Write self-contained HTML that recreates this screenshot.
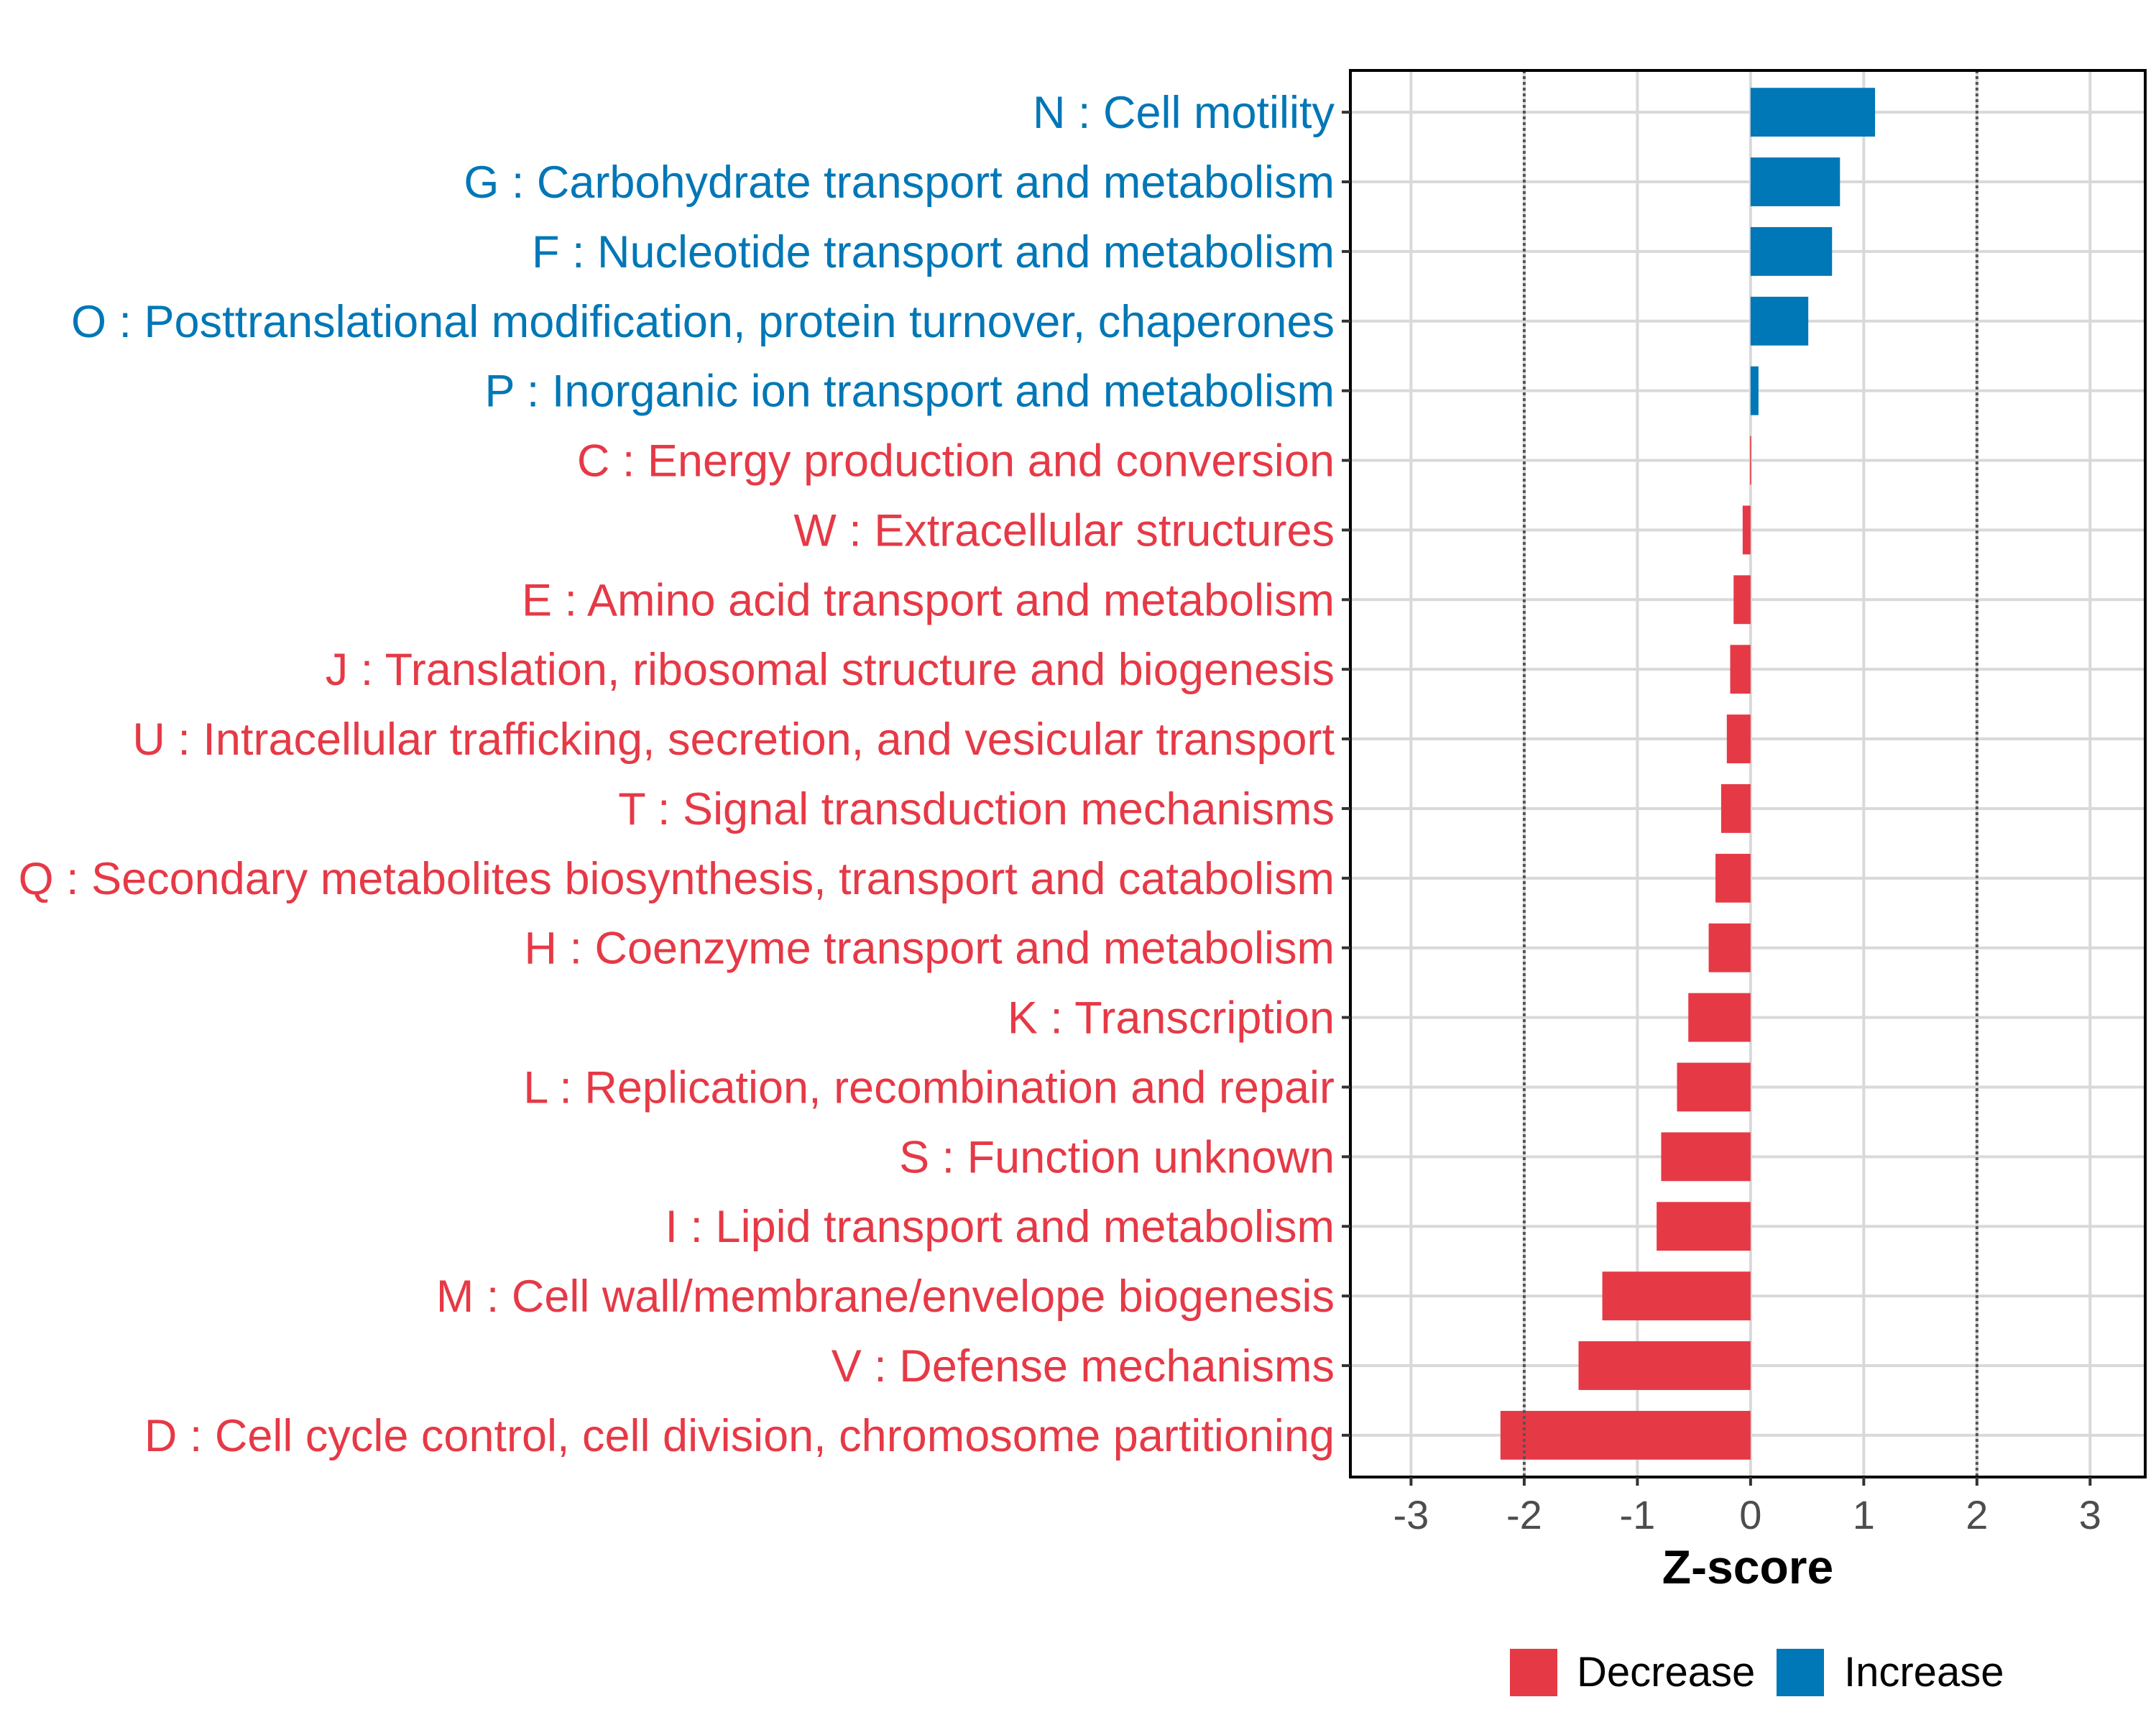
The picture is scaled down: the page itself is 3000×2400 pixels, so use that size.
<!DOCTYPE html>
<html><head><meta charset="utf-8"><style>
html,body{margin:0;padding:0;background:#fff}
svg{display:block;font-family:"Liberation Sans",sans-serif}
</style></head><body>
<svg id="chart" width="3000" height="2400" viewBox="0 0 3000 2400" xmlns="http://www.w3.org/2000/svg">
<rect width="3000" height="2400" fill="#fff"/>
<g id="grid"></g>
<g id="bars"></g>
<g id="axes"></g>
<text x="2432" y="2203" font-size="66" font-weight="bold" text-anchor="middle" fill="#000">Z-score</text>
<g>
<rect x="2101" y="2294" width="66" height="66" fill="#E63946"/>
<text x="2194" y="2346" font-size="58" fill="#000">Decrease</text>
<rect x="2472" y="2294" width="66" height="66" fill="#0077B6"/>
<text x="2566" y="2346" font-size="58" fill="#000">Increase</text>
</g>
</svg>
<script>
const categories = [
"N : Cell motility",
"G : Carbohydrate transport and metabolism",
"F : Nucleotide transport and metabolism",
"O : Posttranslational modification, protein turnover, chaperones",
"P : Inorganic ion transport and metabolism",
"C : Energy production and conversion",
"W : Extracellular structures",
"E : Amino acid transport and metabolism",
"J : Translation, ribosomal structure and biogenesis",
"U : Intracellular trafficking, secretion, and vesicular transport",
"T : Signal transduction mechanisms",
"Q : Secondary metabolites biosynthesis, transport and catabolism",
"H : Coenzyme transport and metabolism",
"K : Transcription",
"L : Replication, recombination and repair",
"S : Function unknown",
"I : Lipid transport and metabolism",
"M : Cell wall/membrane/envelope biogenesis",
"V : Defense mechanisms",
"D : Cell cycle control, cell division, chromosome partitioning"
];
const zscores = [1.10,0.79,0.72,0.51,0.07,-0.005,-0.07,-0.15,-0.18,-0.21,-0.26,-0.31,-0.37,-0.55,-0.65,-0.79,-0.83,-1.31,-1.52,-2.21];
const xTicks = [-3,-2,-1,0,1,2,3];
const xTickLabels = ["-3","-2","-1","0","1","2","3"];
const refLines = [-2,2];

const NS="http://www.w3.org/2000/svg";
const L=1879,R=2985,T=98,B=2055;
const xMin=-3.536,xMax=3.487;
function xs(v){return L+(v-xMin)/(xMax-xMin)*(R-L);}
const n=categories.length, step=(B-T)/(n-1+1.2);
function ys(i){return T+(0.6+i)*step;}
function mk(tag,attrs,parent){const e=document.createElementNS(NS,tag);for(const k in attrs)e.setAttribute(k,attrs[k]);parent.appendChild(e);return e;}
const grid=document.getElementById('grid'),bars=document.getElementById('bars'),axes=document.getElementById('axes');
xTicks.forEach((t,i)=>{
 const l=mk('line',{x1:xs(t),x2:xs(t),y1:T,y2:B,stroke:'#d9d9d9','stroke-width':4},grid);
 
 
});
categories.forEach((c,i)=>{
 const l=mk('line',{x1:L,x2:R,y1:ys(i),y2:ys(i),stroke:'#d9d9d9','stroke-width':4},grid);
 
 
});
zscores.forEach((v,i)=>{
 const h=step*0.7;
 const x0=Math.min(xs(0),xs(v)),w=Math.max(Math.abs(xs(v)-xs(0)),1.5);
 const r=mk('rect',{x:x0,y:ys(i)-h/2,width:w,height:h,fill:v>=0?'#0077B6':'#E63946'},bars);
 
 
});
refLines.forEach(v=>{
 const l=mk('line',{x1:xs(v),x2:xs(v),y1:T,y2:B,stroke:'#555','stroke-width':4,'stroke-dasharray':'4 4'},bars);
 
 
});
const fr=mk('rect',{x:L,y:T,width:R-L,height:B-T,fill:'none',stroke:'#000','stroke-width':4},axes);


xTicks.forEach((t,i)=>{
 const tk=mk('line',{x1:xs(t),x2:xs(t),y1:B,y2:B+12,stroke:'#333','stroke-width':4},axes);
 
 
 const tx=mk('text',{x:xs(t),y:B+72,'font-size':56,'text-anchor':'middle',fill:'#4d4d4d'},axes);
 tx.textContent=xTickLabels[i];
 
 
});
categories.forEach((c,i)=>{
 const tk=mk('line',{x1:L-12,x2:L,y1:ys(i),y2:ys(i),stroke:'#333','stroke-width':4},axes);
 
 
 const tx=mk('text',{x:L-22,y:ys(i)+22,'font-size':63,'text-anchor':'end',fill:zscores[i]>0?'#0077B6':'#E63946'},axes);
 tx.textContent=c;
 
 
});
</script>
</body></html>
